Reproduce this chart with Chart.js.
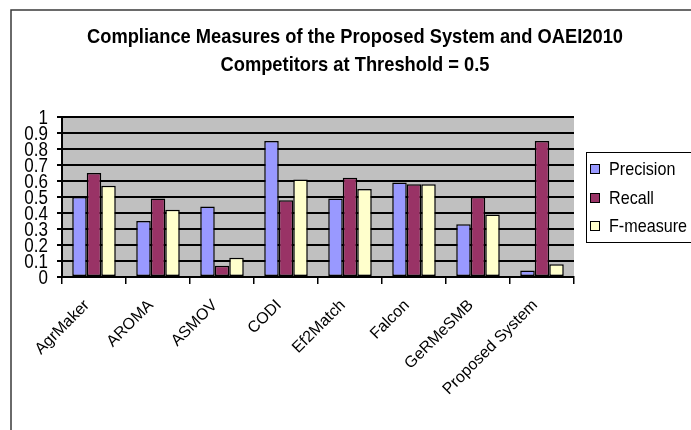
<!DOCTYPE html>
<html>
<head>
<meta charset="utf-8">
<script src="https://cdn.jsdelivr.net/npm/chart.js@4/dist/chart.umd.min.js"></script>
<style>
  html, body { margin: 0; padding: 0; background: #ffffff; }
  #wrap { width: 691px; height: 430px; }
</style>
</head>
<body>
<div id="wrap"><canvas id="chart" width="691" height="430"></canvas></div>
<script>
// Systems compared at threshold 0.5
const systems = ['AgrMaker', 'AROMA', 'ASMOV', 'CODI', 'Ef2Match', 'Falcon', 'GeRMeSMB', 'Proposed System'];
const precision = [0.50, 0.35, 0.44, 0.85, 0.49, 0.59, 0.33, 0.04];
const recall    = [0.65, 0.49, 0.07, 0.48, 0.62, 0.58, 0.50, 0.85];
const fMeasure  = [0.57, 0.42, 0.12, 0.61, 0.55, 0.58, 0.39, 0.08];
const yTicks = ['0', '0.1', '0.2', '0.3', '0.4', '0.5', '0.6', '0.7', '0.8', '0.9', '1'];
const titleLines = ['Compliance Measures of the Proposed System and OAEI2010', 'Competitors at Threshold = 0.5'];

const SANS = "'Liberation Sans', Arial, sans-serif";

// Draw text squeezed horizontally (narrow face look)
function narrowText(ctx, text, x, y, sx) {
  ctx.save();
  ctx.translate(x, y);
  ctx.scale(sx, 1);
  ctx.fillText(text, 0, 0);
  ctx.restore();
}

// Grey plot background, outer frame, title, y tick labels and boxed legend
const decorations = {
  id: 'decorations',
  beforeDraw(chart) {
    const { ctx, chartArea: a } = chart;
    ctx.save();
    ctx.fillStyle = '#c0c0c0';
    ctx.fillRect(a.left, a.top, a.right - a.left, a.bottom - a.top);
    ctx.restore();
  },
  afterDraw(chart) {
    const { ctx } = chart;
    ctx.save();
    // frame
    ctx.strokeStyle = '#3a3a3a';
    ctx.lineWidth = 1.5;
    ctx.beginPath();
    ctx.moveTo(11, 430);
    ctx.lineTo(11, 10);
    ctx.lineTo(691, 10);
    ctx.stroke();

    // title
    ctx.fillStyle = '#000';
    ctx.font = 'bold 21px ' + SANS;
    ctx.textAlign = 'center';
    ctx.textBaseline = 'middle';
    const sx = 536 / ctx.measureText(titleLines[0]).width;
    narrowText(ctx, titleLines[0], 355, 37, sx);
    narrowText(ctx, titleLines[1], 355, 65, sx);

    // y tick labels at the scale's own tick positions
    const yScale = chart.scales.y;
    ctx.font = '20px ' + SANS;
    ctx.textAlign = 'right';
    yScale.ticks.forEach((t, i) => {
      narrowText(ctx, yTicks[i], 48, yScale.getPixelForValue(t.value) + 1, 0.85);
    });

    // legend
    ctx.lineWidth = 1;
    ctx.strokeStyle = '#000';
    ctx.fillStyle = '#fff';
    ctx.fillRect(586.5, 152.5, 120, 90);
    ctx.strokeRect(586.5, 152.5, 120, 90);
    ctx.font = '19px ' + SANS;
    ctx.textAlign = 'left';
    const rows = [169, 198, 226];
    chart.data.datasets.forEach((ds, i) => {
      const y = rows[i];
      ctx.fillStyle = ds.backgroundColor;
      ctx.fillRect(590.5, y - 4.5, 9, 9);
      ctx.strokeStyle = '#000';
      ctx.strokeRect(590.5, y - 4.5, 9, 9);
      ctx.fillStyle = '#000';
      narrowText(ctx, ds.label, 609, y + 1, 0.85);
    });
    ctx.restore();
  }
};

const barStyle = { borderColor: '#000000', borderWidth: 1.5, borderSkipped: false };

new Chart(document.getElementById('chart'), {
  type: 'bar',
  data: {
    labels: systems,
    datasets: [
      { label: 'Precision', data: precision, backgroundColor: '#9999ff', ...barStyle },
      { label: 'Recall',    data: recall,    backgroundColor: '#993366', ...barStyle },
      { label: 'F-measure', data: fMeasure,  backgroundColor: '#ffffcc', ...barStyle }
    ]
  },
  options: {
    responsive: false,
    animation: false,
    devicePixelRatio: 1,
    layout: { padding: { left: 0, right: 117, top: 117, bottom: 0 } },
    plugins: {
      legend: { display: false },
      title: { display: false },
      tooltip: { enabled: false }
    },
    datasets: { bar: { categoryPercentage: 0.68, barPercentage: 1.0 } },
    scales: {
      x: {
        offset: true,
        grid: { offset: true, drawOnChartArea: false, color: '#000', lineWidth: 1.5, tickLength: 7 },
        border: { color: '#000', width: 2 },
        ticks: {
          minRotation: 45, maxRotation: 45, autoSkip: false,
          color: '#000', font: { family: SANS, size: 16 }, padding: 12, labelOffset: -7
        },
        afterFit(scale) { scale.height = 153; }
      },
      y: {
        min: 0, max: 1,
        grid: { color: '#000', lineWidth: 2, tickLength: 5 },
        border: { color: '#000', width: 2 },
        ticks: { stepSize: 0.1, autoSkip: false, display: false },
        afterFit(scale) { scale.width = 62; }
      }
    }
  },
  plugins: [decorations]
});
</script>
</body>
</html>
